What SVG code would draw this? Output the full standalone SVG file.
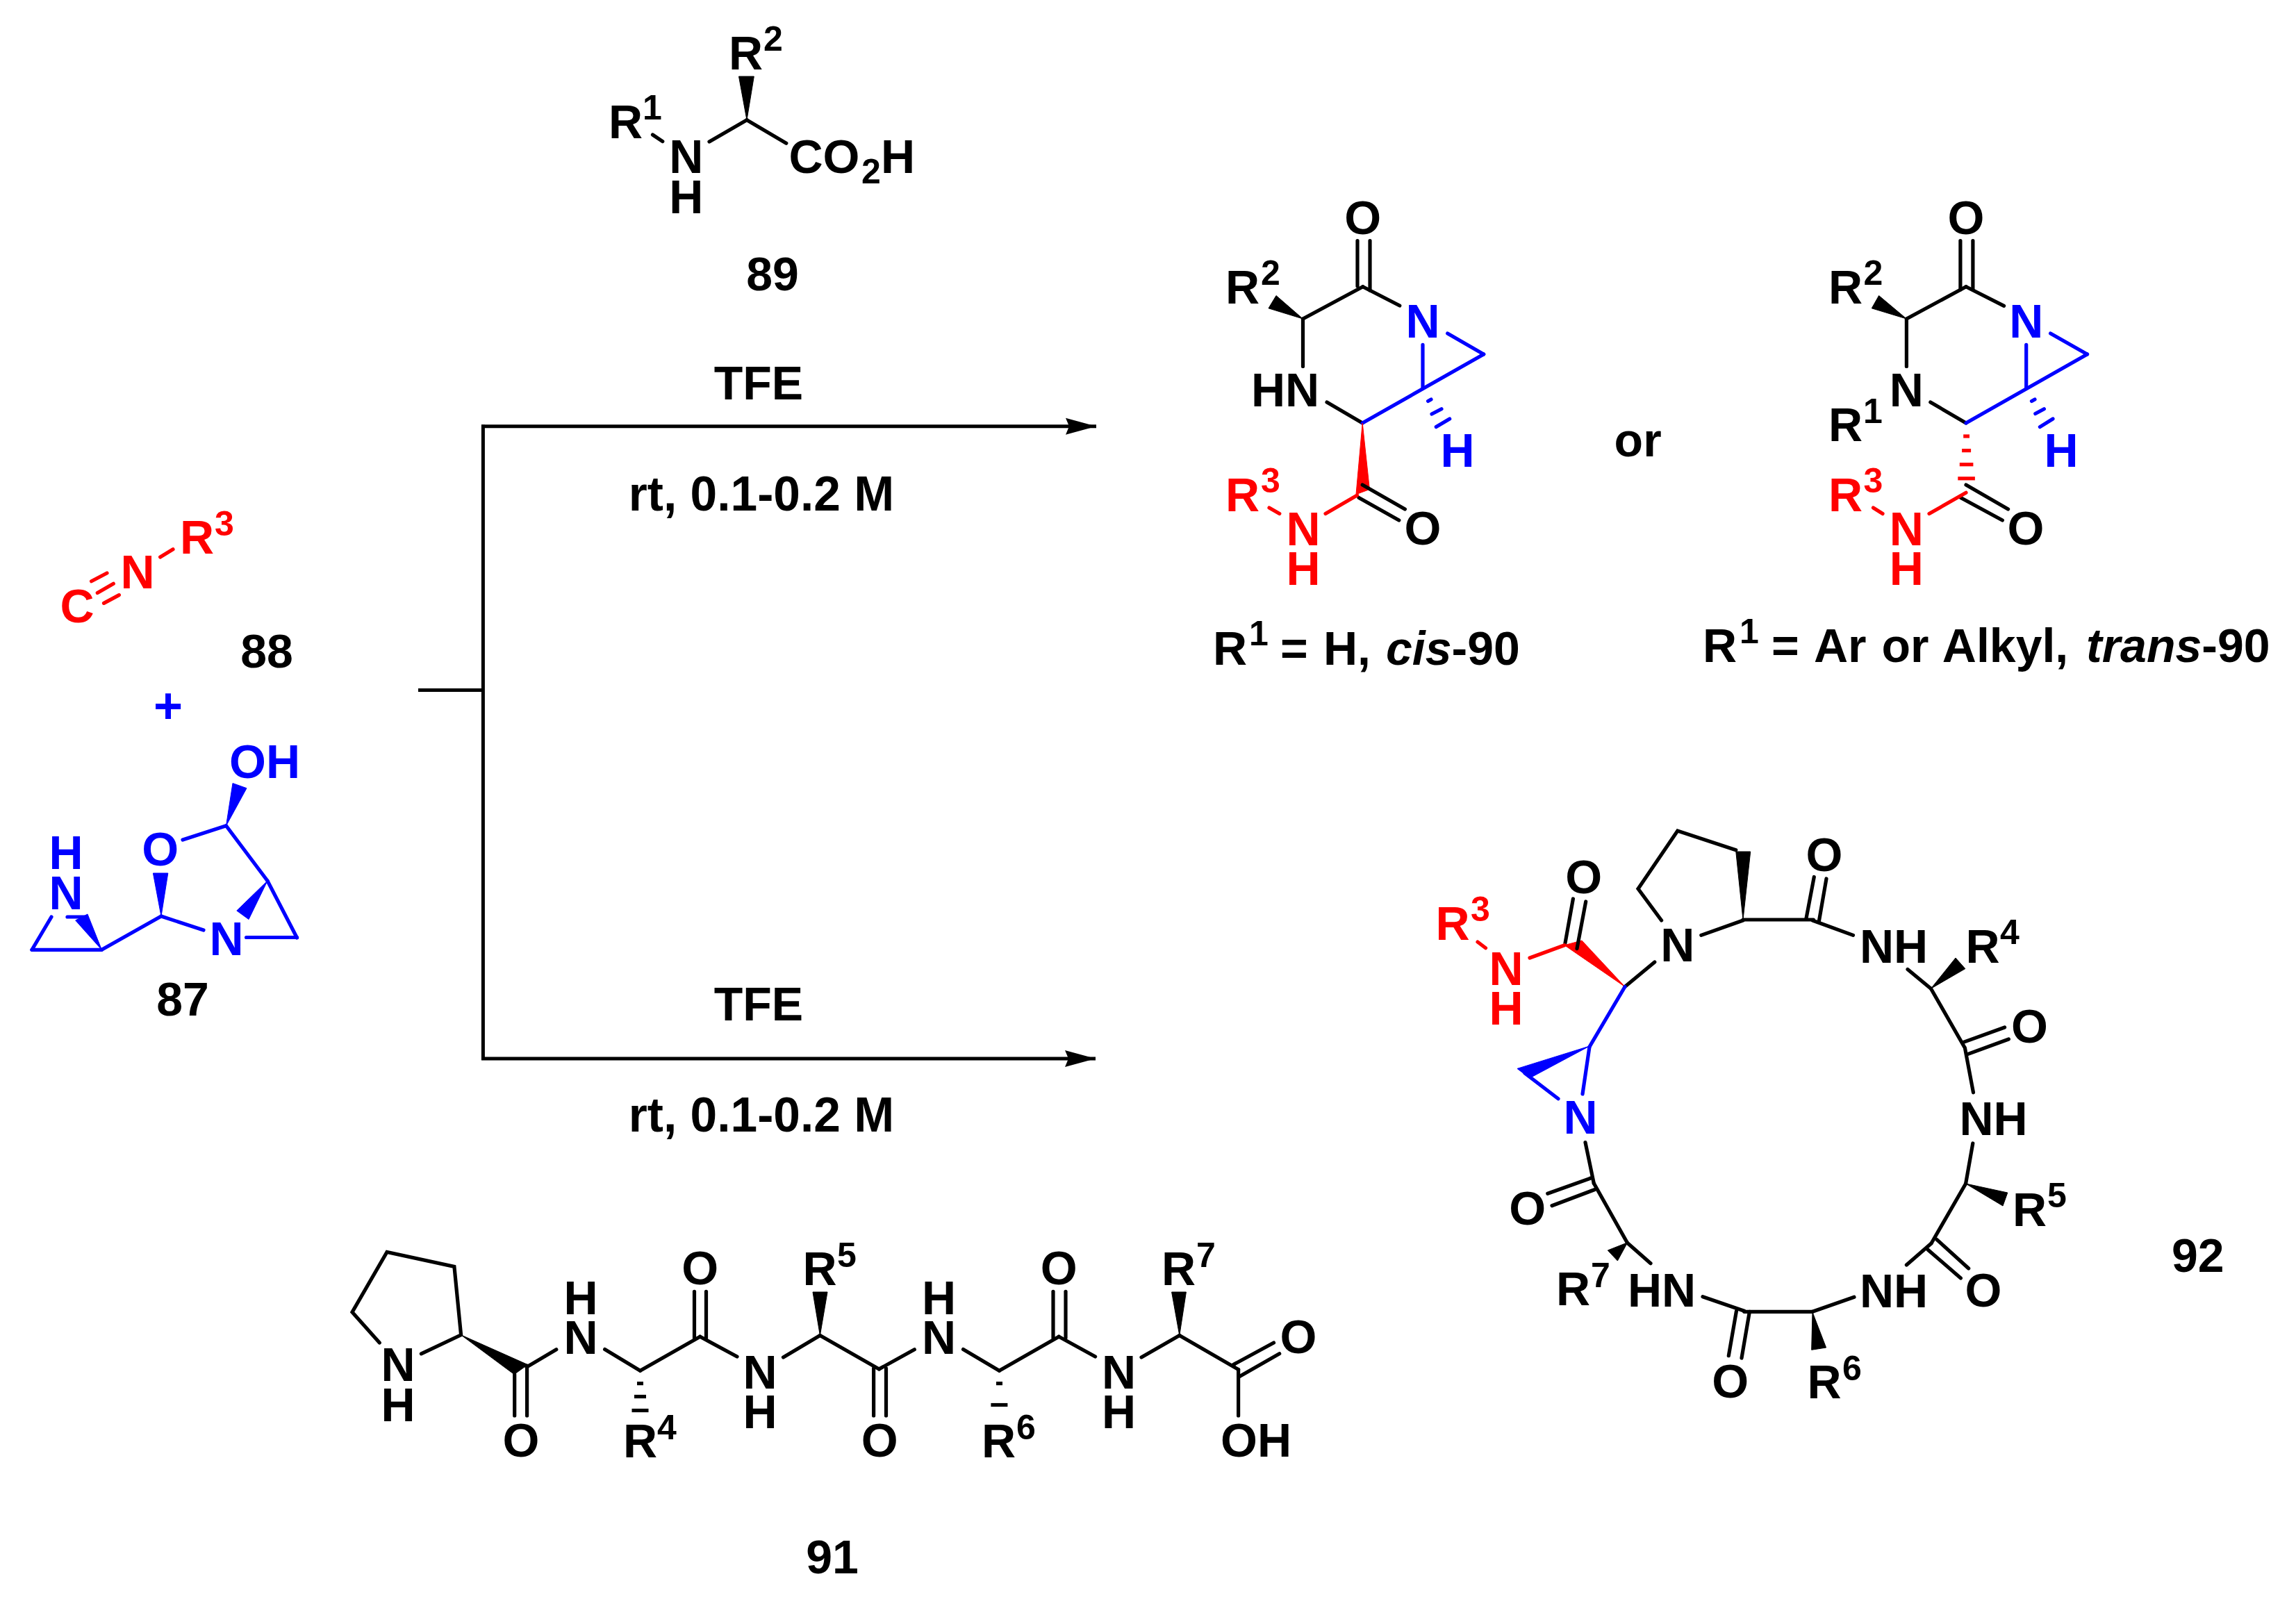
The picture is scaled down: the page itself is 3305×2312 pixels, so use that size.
<svg xmlns="http://www.w3.org/2000/svg" width="3305" height="2312" viewBox="0 0 3305 2312">
<style>
text{font-family:"Liberation Sans",Arial,sans-serif;font-weight:700;font-size:68px;fill:#000}
.s{font-size:50px}
.m{text-anchor:middle}
.i{font-style:italic}
.c{font-size:69.5px}
line,polyline{stroke:#000;stroke-width:5.2;stroke-linecap:round;fill:none}
polygon{fill:#000;stroke:#000;stroke-width:1}
.R text,text.R,tspan.R{fill:#f00}
.B text,text.B{fill:#00f}
line.R{stroke:#f00}
line.B{stroke:#00f}
polygon.R{fill:#f00;stroke:#f00}
polygon.B{fill:#00f;stroke:#00f}
line.h{stroke-linecap:butt}
#connectors line{stroke-width:5;stroke-linecap:butt}
</style>
<defs>
<marker id="head" markerUnits="userSpaceOnUse" markerWidth="46" markerHeight="28" refX="44" refY="14" orient="auto"><path d="M0 2 L44 14 L0 26 L5 14 Z" fill="#000"/></marker>
</defs>
<rect width="3305" height="2312" fill="#fff"/>

<g id="connectors">
<line x1="602" y1="993.5" x2="695" y2="993.5"/>
<line x1="695.4" y1="611.5" x2="695.4" y2="1526"/>
<line x1="693" y1="613.8" x2="1578" y2="613.8" marker-end="url(#head)"/>
<line x1="693" y1="1524" x2="1577" y2="1524" marker-end="url(#head)"/>
</g>

<g id="cond-top">
<text class="m" x="1092" y="575">TFE</text>
<text class="m c" x="1096" y="735">rt, 0.1-0.2 M</text>
</g>
<g id="cond-bottom">
<text class="m" x="1092" y="1469">TFE</text>
<text class="m c" x="1096" y="1629">rt, 0.1-0.2 M</text>
</g>

<g id="n88" class="R">
<line class="R" x1="131.6" y1="836.7" x2="154" y2="825"/>
<line class="R" x1="140.3" y1="853.6" x2="163.3" y2="840.3"/>
<line class="R" x1="149.5" y1="868.4" x2="171.4" y2="856.6"/>
<line class="R" x1="230.6" y1="802" x2="249" y2="790.8"/>
<text class="m" x="111" y="896">C</text>
<text class="m" x="198" y="847">N</text>
<text x="259" y="797">R<tspan class="s" x="309" y="771">3</tspan></text>
</g>
<text id="l88" class="m" x="384" y="961">88</text>
<text id="plus" class="m B" x="242" y="1041" style="font-size:72px">+</text>

<g id="n87" class="B">
<polygon class="B" points="325.5,1188.8 335,1127.6 355,1134.7"/>
<line class="B" x1="263" y1="1209" x2="325.5" y2="1188.8"/>
<line class="B" x1="325.5" y1="1188.8" x2="385" y2="1268"/>
<polygon class="B" points="385,1268 340.8,1311 358,1323.5"/>
<line class="B" x1="385" y1="1268" x2="427.5" y2="1350"/>
<line class="B" x1="427.5" y1="1349.5" x2="354.6" y2="1349.5"/>
<polygon class="B" points="232,1319 220.4,1257 241.8,1257"/>
<line class="B" x1="232" y1="1319" x2="293" y2="1339"/>
<line class="B" x1="232" y1="1319" x2="146.4" y2="1367.3"/>
<line class="B" x1="146.4" y1="1367.3" x2="46" y2="1367.3"/>
<line class="B" x1="46" y1="1367.3" x2="74" y2="1320"/>
<line class="B" x1="97" y1="1320" x2="122" y2="1320"/>
<polygon class="B" points="146.4,1367.3 108.7,1325 126,1316"/>
<text x="330" y="1120">OH</text>
<text class="m" x="230.6" y="1246">O</text>
<text class="m" x="326" y="1375">N</text>
<text class="m"><tspan x="95" y="1251">H</tspan><tspan x="95" y="1308.7">N</tspan></text>
</g>
<text id="l87" class="m" x="263" y="1462">87</text>

<g id="n89">
<polygon points="1075,172.8 1063.5,110 1085.3,110"/>
<line x1="1075" y1="172.8" x2="1021" y2="204"/>
<line x1="1075" y1="172.8" x2="1131.8" y2="206.3"/>
<line x1="939.5" y1="194" x2="953.8" y2="203.6"/>
<text x="1049" y="100">R<tspan class="s" x="1099" y="73">2</tspan></text>
<text x="876" y="198.7">R<tspan class="s" x="925" y="172">1</tspan></text>
<text class="m"><tspan x="987.7" y="248.7">N</tspan><tspan x="987.7" y="306.7">H</tspan></text>
<text x="1135.5" y="248.7">CO<tspan class="s" x="1240" dy="15.5">2</tspan><tspan x="1268" dy="-15.5">H</tspan></text>
</g>
<text id="l89" class="m" x="1112" y="418">89</text>

<g id="n90cis">
<line x1="1954" y1="346.6" x2="1954" y2="412"/>
<line x1="1972" y1="346.6" x2="1972" y2="418"/>
<line x1="1961.7" y1="412.7" x2="1875.5" y2="459"/>
<line x1="1961.7" y1="412.7" x2="2014.8" y2="440"/>
<polygon points="1875.5,459 1826,443.8 1837,425.6"/>
<line x1="1875.5" y1="459" x2="1875.5" y2="527.5"/>
<line x1="1910" y1="579" x2="1961.2" y2="609"/>
<line class="B" x1="2048" y1="496.4" x2="2048" y2="558.6"/>
<line class="B" x1="2083.7" y1="480" x2="2135.7" y2="510"/>
<line class="B" x1="2135.7" y1="510" x2="1961.2" y2="609"/>
<line class="B" x1="2055.6" y1="577.5" x2="2060" y2="575"/>
<line class="B" x1="2061" y1="596" x2="2075" y2="588.8"/>
<line class="B" x1="2067.3" y1="614.6" x2="2086.7" y2="603"/>
<polygon class="R" points="1961.2,609 1952,711.7 1971.4,704.5"/>
<line x1="1961.2" y1="698" x2="2022.4" y2="733"/>
<line x1="1956" y1="716.5" x2="2013.8" y2="749"/>
<line class="R" x1="1953.6" y1="713" x2="1908" y2="739.5"/>
<line class="R" x1="1827" y1="731" x2="1841.8" y2="739.5"/>
<text class="m" x="1961.7" y="337">O</text>
<text x="1764" y="436.6">R<tspan class="s" x="1815" y="410">2</tspan></text>
<text x="1801" y="585">HN</text>
<text class="m B" x="2048" y="486">N</text>
<text class="m B" x="2098" y="672">H</text>
<text class="R" x="1764" y="735.6">R<tspan class="s" x="1815" y="709">3</tspan></text>
<text class="m R"><tspan x="1876" y="784.5">N</tspan><tspan x="1876" y="842">H</tspan></text>
<text class="m" x="2048" y="784">O</text>
</g>
<text id="or" class="m" x="2357.6" y="656.7">or</text>
<text id="l90cis" x="1746" y="956.7">R<tspan class="s" x="1798" y="929">1</tspan><tspan x="1843" y="956.7">=</tspan><tspan x="1905">H,</tspan><tspan class="i" x="1995">cis</tspan><tspan>-90</tspan></text>

<g id="n90trans">
<line x1="2821.9" y1="346.6" x2="2821.9" y2="417"/>
<line x1="2839.9" y1="346.6" x2="2839.9" y2="417"/>
<line x1="2830" y1="412.7" x2="2744.4" y2="459"/>
<line x1="2830" y1="412.7" x2="2884.6" y2="440.4"/>
<polygon points="2744.4,459 2694.3,443.8 2704.6,425.6"/>
<line x1="2744.4" y1="459" x2="2744.4" y2="527.5"/>
<line x1="2778.8" y1="579" x2="2830" y2="609"/>
<line class="B" x1="2916.7" y1="496.4" x2="2916.7" y2="558.6"/>
<line class="B" x1="2951.6" y1="480" x2="3004.5" y2="510"/>
<line class="B" x1="3004.5" y1="510" x2="2830" y2="609"/>
<line class="B" x1="2924.5" y1="577.5" x2="2929" y2="575"/>
<line class="B" x1="2929.8" y1="595.5" x2="2942.4" y2="588.8"/>
<line class="B" x1="2936.4" y1="614.6" x2="2955" y2="603"/>
<line class="R h" x1="2826.2" y1="628" x2="2835" y2="628"/>
<line class="R h" x1="2824.1" y1="648.6" x2="2837.1" y2="648.6"/>
<line class="R h" x1="2820.8" y1="668.7" x2="2840.4" y2="668.7"/>
<line class="R h" x1="2818.3" y1="688.8" x2="2842.9" y2="688.8"/>
<line x1="2830" y1="698" x2="2890.6" y2="733"/>
<line x1="2822.4" y1="716.5" x2="2882.4" y2="749"/>
<line class="R" x1="2830" y1="709.3" x2="2777" y2="739.5"/>
<line class="R" x1="2696.5" y1="731" x2="2710" y2="739.5"/>
<text class="m" x="2830" y="337">O</text>
<text x="2632" y="436.6">R<tspan class="s" x="2682.5" y="410">2</tspan></text>
<text class="m" x="2744.4" y="585">N</text>
<text x="2632" y="635">R<tspan class="s" x="2682" y="609">1</tspan></text>
<text class="m B" x="2916.7" y="486">N</text>
<text class="m B" x="2967" y="672">H</text>
<text class="R" x="2632" y="735.6">R<tspan class="s" x="2682.5" y="709">3</tspan></text>
<text class="m R"><tspan x="2744.4" y="784.5">N</tspan><tspan x="2744.4" y="842">H</tspan></text>
<text class="m" x="2916" y="784">O</text>
</g>
<text id="l90trans" x="2451" y="953">R<tspan class="s" x="2504" y="926">1</tspan><tspan x="2550" y="953">=</tspan><tspan x="2611" style="word-spacing:3px">Ar or Alkyl,</tspan><tspan class="i" x="3003">trans</tspan><tspan>-90</tspan></text>

<g id="n91">
<polyline points="546.3,1933 507,1889 557,1802.5 653.9,1823.5 663.6,1921.8 606.4,1948.8"/>
<polygon points="663.6,1921.8 740.2,1978.6 759.6,1964.6"/>
<line x1="758" y1="1968" x2="800.8" y2="1942.8"/>
<line x1="740.7" y1="1978.6" x2="740.7" y2="2038"/>
<line x1="758.6" y1="1966" x2="758.6" y2="2038"/>
<line x1="870.6" y1="1942.5" x2="921.5" y2="1973.3"/>
<line x1="921.5" y1="1973.3" x2="1007.7" y2="1924.2"/>
<line class="h" x1="917" y1="1991.6" x2="926" y2="1991.6"/>
<line class="h" x1="913" y1="2010.5" x2="930" y2="2010.5"/>
<line class="h" x1="909.5" y1="2030.5" x2="933.5" y2="2030.5"/>
<line x1="999.5" y1="1859.3" x2="999.5" y2="1926"/>
<line x1="1016.5" y1="1859.3" x2="1016.5" y2="1926"/>
<line x1="1007.7" y1="1924.2" x2="1061" y2="1953"/>
<line x1="1127.5" y1="1954" x2="1180.4" y2="1922.5"/>
<polygon points="1180.4,1922.5 1170,1860 1191,1860"/>
<line x1="1180.4" y1="1922.5" x2="1265.4" y2="1970.9"/>
<line x1="1265.4" y1="1970.9" x2="1316.3" y2="1942.8"/>
<line x1="1257.6" y1="1969.8" x2="1257.6" y2="2038"/>
<line x1="1275.5" y1="1969.8" x2="1275.5" y2="2038"/>
<line x1="1386.5" y1="1942.5" x2="1438.4" y2="1973.3"/>
<line x1="1438.4" y1="1973.3" x2="1524.2" y2="1924.2"/>
<line class="h" x1="1434" y1="1991.6" x2="1443" y2="1991.6"/>
<line class="h" x1="1426.4" y1="2022.5" x2="1450.4" y2="2022.5"/>
<line x1="1516" y1="1859.3" x2="1516" y2="1926"/>
<line x1="1534" y1="1859.3" x2="1534" y2="1926"/>
<line x1="1524.2" y1="1924.2" x2="1576.6" y2="1953"/>
<line x1="1643" y1="1954" x2="1697.8" y2="1922.5"/>
<polygon points="1697.8,1922.5 1686.6,1860 1707.4,1860"/>
<line x1="1697.8" y1="1922.5" x2="1782.6" y2="1971.6"/>
<line x1="1775.3" y1="1964.6" x2="1833.5" y2="1933"/>
<line x1="1783.5" y1="1982" x2="1841.7" y2="1948.8"/>
<line x1="1782.6" y1="1971.6" x2="1782.6" y2="2038"/>
<text class="m"><tspan x="573" y="1988.4">N</tspan><tspan x="573" y="2046.3">H</tspan></text>
<text class="m" x="749.9" y="2097">O</text>
<text class="m"><tspan x="836" y="1891.6">H</tspan><tspan x="836" y="1948.8">N</tspan></text>
<text x="897" y="2098">R<tspan class="s" x="946" y="2071.6">4</tspan></text>
<text class="m" x="1007.7" y="1849">O</text>
<text class="m"><tspan x="1094" y="1998.6">N</tspan><tspan x="1094" y="2055.8">H</tspan></text>
<text x="1155.4" y="1849.8">R<tspan class="s" x="1205" y="1823.5">5</tspan></text>
<text class="m" x="1266.3" y="2097">O</text>
<text class="m"><tspan x="1351.6" y="1891.6">H</tspan><tspan x="1351.6" y="1948.8">N</tspan></text>
<text x="1413" y="2098">R<tspan class="s" x="1463" y="2071.6">6</tspan></text>
<text class="m" x="1524.2" y="1849">O</text>
<text class="m"><tspan x="1610.5" y="1998.6">N</tspan><tspan x="1610.5" y="2055.8">H</tspan></text>
<text x="1672" y="1849.8">R<tspan class="s" x="1722" y="1823.5">7</tspan></text>
<text class="m" x="1868.9" y="1948">O</text>
<text x="1757" y="2097">OH</text>
</g>
<text id="l91" class="m" x="1198" y="2265">91</text>

<g id="n92">
<line x1="2253" y1="1357.6" x2="2264.4" y2="1294"/>
<polygon class="R" points="2339,1420.5 2252,1360.7 2277,1354"/>
<line x1="2270" y1="1365.6" x2="2282.7" y2="1298"/>
<line class="R" x1="2202" y1="1379" x2="2252" y2="1360.7"/>
<line class="R" x1="2127" y1="1356" x2="2138.5" y2="1364.7"/>
<line x1="2339" y1="1420.5" x2="2381.8" y2="1385"/>
<polyline points="2391.6,1325 2358,1279.5 2414.8,1196 2498.8,1223.7"/>
<polygon points="2509,1324 2498.8,1226 2519.7,1226"/>
<line x1="2448.8" y1="1346.4" x2="2509" y2="1325"/>
<line x1="2509" y1="1324" x2="2610.4" y2="1324"/>
<line x1="2600" y1="1322" x2="2611.3" y2="1262.5"/>
<line x1="2618.4" y1="1326" x2="2629" y2="1265"/>
<line x1="2609" y1="1325" x2="2667.5" y2="1346.4"/>
<line class="B" x1="2339" y1="1420.5" x2="2288" y2="1507"/>
<polygon class="B" points="2288,1506 2184,1538.4 2202,1552"/>
<line class="B" x1="2195" y1="1545" x2="2243" y2="1581.7"/>
<line class="B" x1="2288" y1="1507" x2="2278" y2="1575"/>
<line x1="2282" y1="1644.6" x2="2294.3" y2="1703.6"/>
<line x1="2227.8" y1="1718.3" x2="2289.8" y2="1696"/>
<line x1="2234" y1="1735.7" x2="2295.6" y2="1712.5"/>
<line x1="2294.3" y1="1703.6" x2="2342.5" y2="1789.3"/>
<line x1="2342.5" y1="1789.3" x2="2376" y2="1818.8"/>
<polygon points="2342.7,1788.8 2314.3,1800 2328.4,1815"/>
<line x1="2451" y1="1866.7" x2="2510.7" y2="1887.3"/>
<line x1="2510.7" y1="1888.3" x2="2609" y2="1888.3"/>
<line x1="2499.5" y1="1887.3" x2="2488.3" y2="1951.7"/>
<line x1="2518.4" y1="1888.3" x2="2507" y2="1955"/>
<polygon points="2609,1889 2607.7,1943.3 2628.6,1940"/>
<line x1="2609" y1="1888.3" x2="2669" y2="1867.3"/>
<line x1="2744.4" y1="1821" x2="2780" y2="1790"/>
<line x1="2787.8" y1="1784.3" x2="2833.7" y2="1826"/>
<line x1="2775" y1="1799" x2="2822.4" y2="1840"/>
<line x1="2780" y1="1790" x2="2829.6" y2="1704"/>
<line x1="2829.6" y1="1704" x2="2839.8" y2="1646"/>
<polygon points="2829.6,1704 2889.8,1717 2883,1736"/>
<line x1="2779.5" y1="1423.2" x2="2746" y2="1395.5"/>
<polygon points="2779.5,1423.2 2815,1379 2828.8,1394.6"/>
<line x1="2779.5" y1="1423.2" x2="2827.5" y2="1507"/>
<line x1="2826.3" y1="1500.4" x2="2885.6" y2="1479"/>
<line x1="2833" y1="1517.4" x2="2891.4" y2="1496"/>
<line x1="2828.4" y1="1508.5" x2="2840.5" y2="1572.8"/>
<text class="m" x="2279.6" y="1285.5">O</text>
<text class="R" x="2066.5" y="1353">R<tspan class="s" x="2117" y="1326">3</tspan></text>
<text class="m R"><tspan x="2168" y="1418">N</tspan><tspan x="2168" y="1474.5">H</tspan></text>
<text class="m" x="2414.8" y="1384.4">N</text>
<text class="m" x="2626" y="1253.5">O</text>
<text class="m B" x="2275" y="1632">N</text>
<text class="m" x="2198.8" y="1763">O</text>
<text x="2240" y="1879.3">R<tspan class="s" x="2290" y="1853">7</tspan></text>
<text x="2343" y="1880.7">HN</text>
<text class="m" x="2490.8" y="2012">O</text>
<text x="2601.6" y="2013.3">R<tspan class="s" x="2652" y="1987.3">6</tspan></text>
<text x="2677" y="1881.7">NH</text>
<text class="m" x="2855" y="1881">O</text>
<text x="2677" y="1385.7">NH</text>
<text x="2829.6" y="1385.7">R<tspan class="s" x="2879" y="1359">4</tspan></text>
<text class="m" x="2921.5" y="1501">O</text>
<text x="2820.4" y="1633.5">NH</text>
<text x="2897" y="1765">R<tspan class="s" x="2947" y="1738">5</tspan></text>
</g>
<text id="l92" class="m" x="3163.8" y="1830.8">92</text>
</svg>
